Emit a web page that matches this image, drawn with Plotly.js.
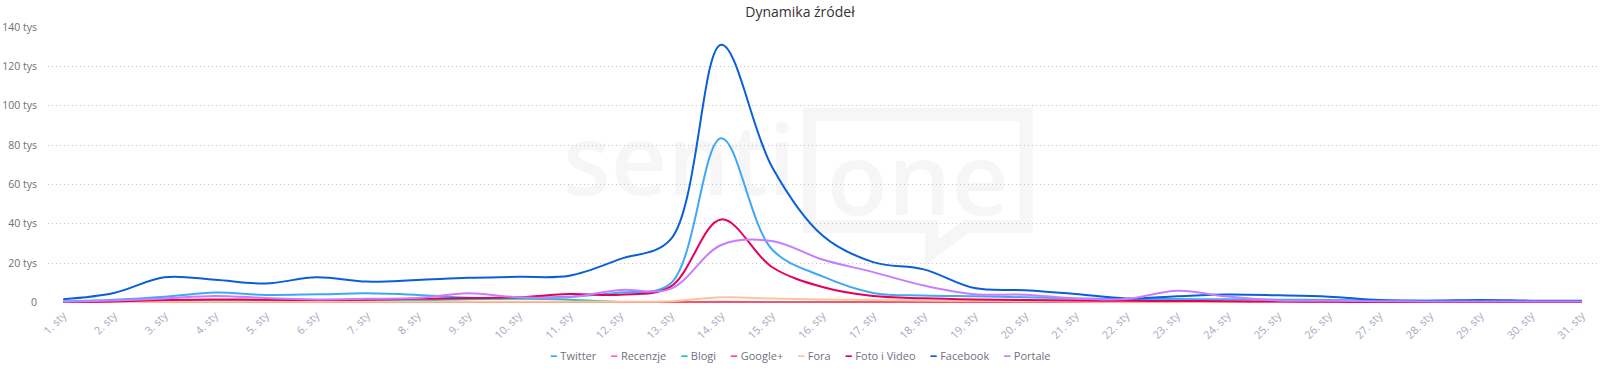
<!DOCTYPE html>
<html>
<head>
<meta charset="utf-8">
<script src="https://cdn.plot.ly/plotly-3.0.1.min.js"></script>
<style>html,body{margin:0;padding:0;background:#fff;}#chart{width:1600px;height:371px;}</style>
</head>
<body>
<div id="chart"></div>
<script>
const days = ["1. sty","2. sty","3. sty","4. sty","5. sty","6. sty","7. sty","8. sty","9. sty","10. sty","11. sty","12. sty","13. sty","14. sty","15. sty","16. sty","17. sty","18. sty","19. sty","20. sty","21. sty","22. sty","23. sty","24. sty","25. sty","26. sty","27. sty","28. sty","29. sty","30. sty","31. sty"];

// values in thousands of mentions
const twitter   = [0.5,1.4,2.9,5.0,3.8,4.1,4.6,3.8,2.4,2.4,2.9,5.0,9.6,83.5,27.0,13.2,4.8,3.5,3.1,2.6,2.0,1.7,1.7,1.6,1.4,1.2,0.9,0.8,0.8,0.7,0.7];
const recenzje  = [0.05,0.05,0.05,0.05,0.05,0.05,0.05,0.05,0.05,0.05,0.05,0.05,0.05,0.1,0.1,0.05,0.05,0.05,0.05,0.05,0.05,0.05,0.05,0.05,0.05,0.05,0.05,0.05,0.05,0.05,0.05];
const blogi     = [0.3,0.5,0.6,0.7,0.7,0.7,0.8,1.0,1.6,1.8,1.4,0.2,0.2,0.3,0.2,0.2,0.1,0.1,0.1,0.1,0.1,0.1,0.1,0.1,0.1,0.1,0.1,0.1,0.1,0.1,0.1];
const googleplus= [0.1,0.1,0.1,0.1,0.1,0.1,0.1,0.1,0.1,0.1,0.1,0.1,0.1,0.2,0.1,0.1,0.1,0.1,0.1,0.1,0.1,0.1,0.1,0.1,0.1,0.1,0.1,0.1,0.1,0.1,0.1];
const fora      = [0.2,0.2,0.3,0.3,0.3,0.3,0.3,0.3,0.3,0.3,0.3,0.3,0.6,2.6,2.0,1.5,1.2,1.0,0.8,0.6,0.5,0.3,0.3,0.3,0.3,0.3,0.2,0.2,0.2,0.2,0.2];
const fotoVideo = [0.2,0.5,1.2,1.5,1.3,1.2,1.3,1.8,2.2,2.6,4.3,3.9,8.0,42.2,18.0,7.8,3.2,2.1,1.5,1.2,1.0,0.8,0.7,0.6,0.4,0.3,0.2,0.2,0.2,0.1,0.1];
const facebook  = [1.6,4.8,12.8,11.5,9.6,12.8,10.6,11.4,12.5,13.0,13.6,22.0,32.0,131.0,69.0,34.0,20.5,16.8,7.3,6.2,4.3,2.0,3.1,4.0,3.6,2.9,1.2,0.9,1.2,0.9,0.8];
const portale   = [0.3,1.0,2.0,3.3,2.2,1.5,1.8,2.2,4.6,2.6,2.6,6.3,6.9,29.2,31.2,21.8,15.4,8.6,4.2,3.9,2.0,1.7,5.9,3.0,1.0,0.8,0.6,0.5,0.5,0.5,0.5];

const seriesNames = ["Twitter","Recenzje","Blogi","Google+","Fora","Foto i Video","Facebook","Portale"];
const seriesData  = [twitter,recenzje,blogi,googleplus,fora,fotoVideo,facebook,portale];
const seriesColors= ["#3fa9f5","#ff66cc","#1fc4b4","#ff4d6d","#ffc29e","#e6005c","#0a5fd8","#c77dff"];

const yTickVals = [0,20000,40000,60000,80000,100000,120000,140000];
const yTickText = ["0","20 tys","40 tys","60 tys","80 tys","100 tys","120 tys","140 tys"];

const traces = seriesNames.map((n,i)=>({
  type:'scatter', mode:'lines', name:n, x:days,
  y:seriesData[i].map(v=>v*1000),
  line:{color:seriesColors[i], width:2, shape:'spline', smoothing:1},
  hoverinfo:'skip'
}));

// legend built from the series names and colours
const NB = '\u00a0';
const legendText = seriesNames.map((n,i)=>
  '<span style="color:'+seriesColors[i]+';font-size:15px;font-weight:bold">–</span>'+NB+n
).join(NB+NB+NB+NB+NB);

const wm = '#f6f6f6';
const layout = {
  width:1600, height:371,
  margin:{l:48, r:3, t:27, b:68},
  paper_bgcolor:'#fff', plot_bgcolor:'#fff',
  font:{family:'"Open Sans", sans-serif', color:'#707070'},
  title:{text:'Dynamika źródeł', font:{size:14, color:'#333', family:'"Open Sans", sans-serif'}, x:0.5, xanchor:'center', y:0.967, yanchor:'middle'},
  xaxis:{type:'category', range:[-0.3,30.3], showgrid:false, zeroline:false, showline:false,
    ticks:'', tickangle:-45, tickfont:{size:11, color:'#a3a9bf'}, ticklabelstandoff:3},
  yaxis:{range:[-300,140000], tickvals:yTickVals, ticktext:yTickText, showgrid:true, gridcolor:'#c4c4c4',
    griddash:'1px,3px', gridwidth:1, zeroline:false, showline:false, ticks:'', ticklabelstandoff:10,
    tickfont:{size:10.5, color:'#707070'}},
  showlegend:false,
  annotations:[
    {xref:'paper', yref:'paper', x:0.4855, xanchor:'center', y:-0.185, yanchor:'middle', showarrow:false,
     text:legendText, font:{size:11, color:'#707080', family:'"Open Sans", sans-serif'}}
  ],
  shapes:[
    {type:'rect', xref:'paper', yref:'paper', x0:0.333, x1:0.482, y0:0.35, y1:0.66, layer:'below',
     line:{width:0}, fillcolor:'rgba(0,0,0,0)',
     label:{text:'senti', font:{size:98, color:wm, family:'"Open Sans", sans-serif', weight:600}, textposition:'middle center'}},
    {type:'path', xref:'paper', yref:'paper', layer:'below', line:{color:wm, width:13}, fillcolor:'rgba(0,0,0,0)',
     path:'M 0.4915,0.683 L 0.6315,0.683 L 0.6315,0.277 L 0.5930,0.277 L 0.5705,0.183 L 0.5705,0.277 L 0.4915,0.277 Z',
     label:{text:'one', font:{size:100, color:wm, family:'"Open Sans", sans-serif', weight:600}, textposition:'middle center'}}
  ]
};

Plotly.newPlot('chart', traces, layout, {staticPlot:true});
</script>
</body>
</html>
